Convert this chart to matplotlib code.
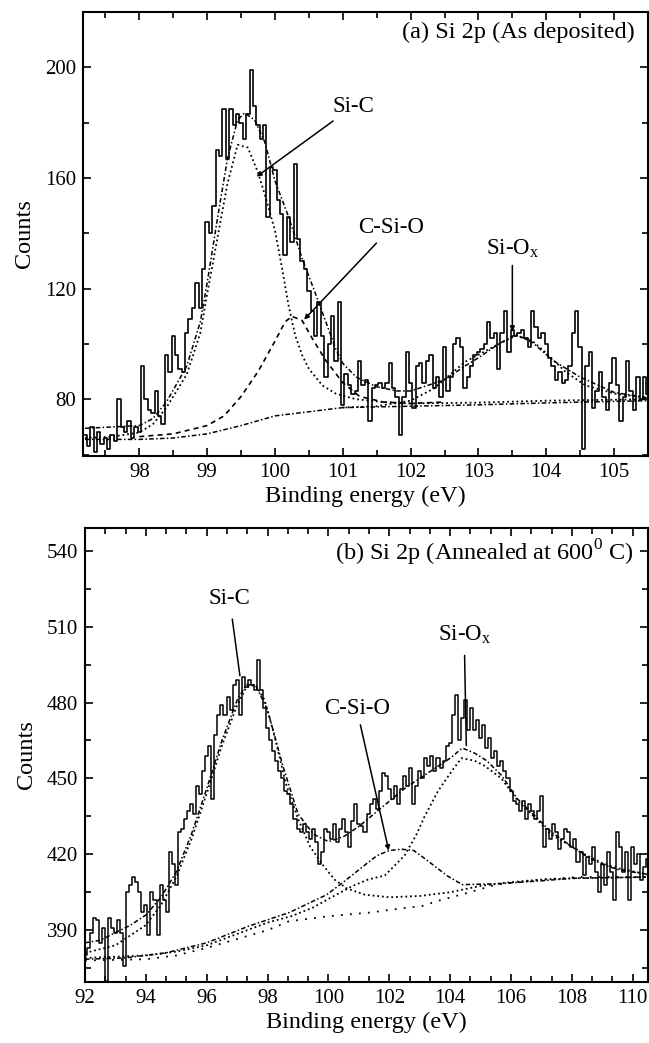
import numpy as np
import matplotlib
matplotlib.use("Agg")
import matplotlib.pyplot as plt
from matplotlib.ticker import MultipleLocator, AutoMinorLocator

plt.rcParams['font.family'] = ['Liberation Serif', 'DejaVu Serif']
plt.rcParams['mathtext.fontset'] = 'custom'
plt.rcParams['mathtext.rm'] = 'Liberation Serif'

# ---------------- (a) as deposited ----------------
a_e0, a_step = 97.2, 0.05
a_counts = [67, 63, 70, 61, 68, 64, 66, 62, 67, 65,
            80, 70, 68, 72, 66, 70, 68, 92, 80, 76,
            75, 83, 74, 71, 96, 90, 103, 96, 91, 90,
            104, 109, 113, 122, 113, 127, 144, 140, 150, 170,
            168, 185, 167, 185, 179, 183, 180, 174, 183, 199,
            186, 179, 174, 179, 146, 164, 163, 152, 147, 132,
            146, 137, 165, 138, 130, 127, 119, 112, 103, 115,
            103, 88, 100, 110, 94, 115, 78, 89, 85, 82,
            83, 94, 85, 87, 72, 84, 85, 86, 84, 86,
            93, 84, 81, 67, 81, 97, 86, 77, 92, 93,
            86, 94, 96, 84, 88, 81, 99, 83, 88, 100,
            102, 99, 84, 88, 92, 96, 97, 98, 100, 108,
            102, 104, 91, 104, 112, 97, 105, 103, 104, 105,
            102, 99, 112, 106, 102, 104, 100, 95, 92, 87,
            90, 86, 87, 92, 104, 112, 99, 62, 92, 97,
            77, 83, 90, 81, 76, 86, 95, 85, 72, 81,
            94, 83, 76, 88, 80, 88, 82]
a_energy = a_e0 + a_step * np.arange(len(a_counts))

a_env_x = [97.2, 97.6, 98.0, 98.2, 98.4, 98.7, 98.9, 99.0, 99.15, 99.3, 99.45, 99.55,
           99.7, 99.85, 100.0, 100.2, 100.4, 100.6, 100.75, 100.9, 101.0, 101.2, 101.5,
           101.8, 102.0, 102.5, 102.8, 103.0, 103.3, 103.55, 103.8, 104.1, 104.5, 105.0, 105.5]
a_env_y = [69.5, 70, 70.5, 73, 79, 92, 108, 122, 145, 167, 181, 183.5,
           181, 173, 159, 146, 131, 118, 108, 98, 93, 88, 84.5,
           83, 83, 87, 92, 95, 100, 103.5, 100.5, 94, 88, 82.5, 80.5]

a_sic_x = [97.2, 97.6, 98.0, 98.2, 98.4, 98.7, 98.9, 99.0, 99.15, 99.3, 99.45, 99.6,
           99.75, 99.85, 100.0, 100.1, 100.2, 100.3, 100.4, 100.5, 100.7, 100.9, 101.2,
           101.6, 102.0, 103.0, 104.0, 105.5]
a_sic_y = [66, 66.5, 68, 71, 77, 89, 104, 118, 138, 158, 172, 171,
           162, 154, 141, 128, 114, 103, 96, 91, 85, 82, 80,
           79, 78.5, 78.8, 79.5, 80]

a_csio_x = [98.0, 98.5, 99.0, 99.25, 99.5, 99.75, 100.0, 100.15, 100.25, 100.4,
            100.55, 100.75, 101.0, 101.25, 101.6, 102.0, 102.5]
a_csio_y = [66.5, 67.5, 70.5, 74, 81, 90, 101, 108, 110, 108.5,
            102, 94, 86, 81, 79, 78.5, 79]

a_siox_x = [101.0, 101.5, 102.0, 102.35, 102.8, 103.3, 103.55, 103.8, 104.03,
            104.28, 104.58, 105.02, 105.5]
a_siox_y = [77, 77.5, 79.5, 84, 93.5, 100, 103, 101, 96,
            90, 85, 82, 80.5]

a_bg_x = [97.2, 98.0, 98.5, 99.0, 99.5, 100.0, 100.5, 101.0, 102.0, 103.0, 104.0, 105.5]
a_bg_y = [65.5, 65.5, 66, 67.5, 70.5, 74, 75.5, 77, 77.5, 78, 78.7, 79.5]

# ---------------- (b) annealed ----------------
b_e0, b_step = 92.0, 0.1
b_counts = [380, 383, 389, 395, 394, 385, 391, 370, 395, 391,
            389, 394, 389, 376, 405, 408, 411, 409, 405, 397,
            400, 388, 405, 402, 388, 408, 402, 397, 421, 416,
            408, 429, 430, 434, 437, 440, 436, 447, 444, 453,
            459, 463, 442, 467, 475, 479, 475, 482, 477, 487,
            489, 475, 490, 486, 489, 487, 485, 497, 485, 478,
            470, 465, 461, 457, 453, 450, 445, 444, 440, 434,
            430, 429, 432, 429, 426, 430, 425, 416, 421, 430,
            429, 426, 432, 425, 430, 434, 429, 423, 433, 440,
            432, 431, 429, 436, 440, 442, 438, 445, 452, 451,
            446, 442, 447, 440, 446, 451, 447, 454, 440, 447,
            453, 450, 458, 455, 459, 453, 458, 454, 457, 463,
            464, 475, 483, 465, 474, 481, 469, 478, 469, 473,
            466, 471, 462, 466, 458, 461, 455, 457, 453, 450,
            445, 441, 440, 437, 441, 434, 440, 437, 434, 437,
            443, 423, 430, 426, 432, 429, 422, 426, 430, 429,
            423, 426, 417, 421, 412, 419, 416, 423, 413, 405,
            416, 408, 421, 413, 402, 429, 423, 413, 421, 402,
            423, 416, 420, 410, 415, 418]
b_energy = b_e0 + b_step * np.arange(len(b_counts))

b_env_x = [92.0, 92.5, 93.0, 93.5, 94.0, 94.5, 95.0, 95.5, 96.0, 96.5, 97.0, 97.3,
           97.6, 98.0, 98.5, 99.0, 99.5, 100.0, 100.5, 101.0, 101.5, 102.0, 102.5,
           103.0, 103.5, 104.0, 104.4, 104.8, 105.2, 105.7, 106.2, 106.8, 107.3,
           108.0, 108.5, 109.0, 109.5, 110.5]
b_env_y = [385, 386, 389, 392, 396, 403, 413, 428, 446, 465, 481, 487,
           487, 477, 455, 436, 428, 425, 427, 431, 436, 441, 446,
           450, 454, 458, 462, 460, 457, 451, 442, 435, 429,
           423, 419, 416, 414, 412]

b_sic_x = [92.0, 93.0, 94.0, 94.5, 95.0, 95.5, 96.0, 96.5, 97.0, 97.3, 97.6, 97.9,
           98.2, 98.6, 99.0, 99.4, 99.8, 100.2, 100.6, 101.2, 102.0, 103.0, 104.0,
           105.0, 106.0, 107.0, 108.0, 110.5]
b_sic_y = [381, 384, 392, 400, 411, 426, 444, 463, 479, 486, 487, 481,
           468, 448, 434, 423, 416, 410, 406.5, 404, 403, 403.5, 405,
           407.5, 409, 410, 410.5, 411]

b_csio_x = [92.0, 93.3, 94.65, 96.0, 97.36, 98.72, 99.94, 100.49, 101.17, 101.6,
            102.0, 102.4, 102.8, 103.2, 103.9, 104.4, 105.5, 107.0, 108.0, 110.5]
b_csio_y = [378.5, 379, 381, 385, 391.5, 397, 404, 409, 415.5, 419.5,
            421.5, 422, 421.5, 418, 411.5, 408, 408.3, 409.5, 410.5, 411]

b_siox_x = [92.0, 94.0, 95.0, 96.0, 97.0, 98.0, 98.8, 99.5, 100.1, 100.8, 101.3,
            101.85, 102.5, 102.9, 103.16, 103.6, 104.04, 104.37, 104.8, 105.13,
            105.68, 106.23, 106.83, 107.3, 108.0, 108.5, 109.0, 109.5, 110.5]
b_siox_y = [379, 380, 381.5, 384, 388.5, 393, 395.6, 399, 403, 407.5, 410,
            411.6, 419.5, 428, 435, 445, 452.7, 458, 457, 455,
            450, 441, 434, 428, 423, 419.5, 416.5, 414.5, 412]

b_bg_x = [92.0, 94.0, 95.0, 96.0, 97.0, 98.0, 98.7, 100.0, 101.4, 102.0, 103.1,
          103.6, 104.5, 105.5, 107.0, 108.2, 110.5]
b_bg_y = [378, 378.5, 380, 383, 386.5, 390, 393.5, 395.5, 397, 398, 399.6,
          401.6, 404.5, 408, 410, 411, 411]

fig = plt.figure(figsize=(6.49, 10.43), dpi=100)
ax1 = fig.add_axes([83/649, 1-456/1043, (648-83)/649, (456-12)/1043])
ax2 = fig.add_axes([85/649, 1-982/1043, (648-85)/649, (982-528)/1043])

dot = dict(color='black', lw=1.3, linestyle=(0, (1, 1.6)))
dash = dict(color='black', lw=1.2, linestyle=(0, (3, 2.5)))
dashdot = dict(color='black', lw=1.1, linestyle=(0, (3, 1.5, 1, 1.5)))
sparse = dict(color='black', lw=1.3, linestyle=(0, (1, 4)))

# panel (a)
ax1.plot(a_energy, a_counts, color='black', lw=1.2, drawstyle='steps-mid')
ax1.plot(a_bg_x, a_bg_y, **dashdot)
ax1.plot(a_sic_x, a_sic_y, **dot)
ax1.plot(a_csio_x, a_csio_y, **dash)
ax1.plot(a_siox_x, a_siox_y, **dot)
ax1.plot(a_env_x, a_env_y, **dashdot)

ax1.set_xlim(97.17, 105.5)
ax1.set_ylim(59.5, 220)
ax1.xaxis.set_major_locator(MultipleLocator(1))
ax1.xaxis.set_minor_locator(AutoMinorLocator(2))
ax1.yaxis.set_major_locator(MultipleLocator(40))
ax1.yaxis.set_minor_locator(AutoMinorLocator(2))

ax1.text(0.977, 0.955, '(a) Si 2p (As deposited)', transform=ax1.transAxes,
         ha='right', va='center', fontsize=17.5)
arr = dict(arrowstyle='-|>', color='black', lw=1.1, mutation_scale=7, shrinkA=2, shrinkB=0)
ax1.annotate('Si-C', xy=(99.73, 160.5), xytext=(101.16, 186), fontsize=16.5,
             ha='center', va='center', arrowprops=arr)
ax1.annotate('C-Si-O', xy=(100.43, 108.8), xytext=(101.71, 142), fontsize=16.5,
             ha='center', va='center', arrowprops=arr)
ax1.annotate('Si-O$_\\mathrm{x}$', xy=(103.5, 104.5), xytext=(103.5, 134.5), fontsize=16.5,
             ha='center', va='center', arrowprops=arr)

# panel (b)
ax2.plot(b_energy, b_counts, color='black', lw=1.1, drawstyle='steps-mid')
ax2.plot(b_bg_x, b_bg_y, **sparse)
ax2.plot(b_sic_x, b_sic_y, **dot)
ax2.plot(b_csio_x, b_csio_y, **dashdot)
ax2.plot(b_siox_x, b_siox_y, **dot)
ax2.plot(b_env_x, b_env_y, **dashdot)

ax2.set_xlim(92, 110.5)
ax2.set_ylim(369.5, 549)
ax2.xaxis.set_major_locator(MultipleLocator(2))
ax2.xaxis.set_minor_locator(AutoMinorLocator(3))
ax2.yaxis.set_major_locator(MultipleLocator(30))
ax2.yaxis.set_minor_locator(AutoMinorLocator(2))

ax2.text(0.975, 0.945, '(b) Si 2p (Annealed at 600$^\\mathrm{0}$ C)', transform=ax2.transAxes,
         ha='right', va='center', fontsize=17.5)
ax2.annotate('Si-C', xy=(97.09, 490.6), xytext=(96.75, 521), fontsize=16.5,
             ha='center', va='center',
             arrowprops=dict(arrowstyle='-', color='black', lw=1.1, shrinkA=5, shrinkB=0))
ax2.annotate('C-Si-O', xy=(101.98, 421.5), xytext=(100.93, 477.5), fontsize=16.5,
             ha='center', va='center', arrowprops=arr)
ax2.annotate('Si-O$_\\mathrm{x}$', xy=(104.53, 463), xytext=(104.46, 507), fontsize=16.5,
             ha='center', va='center',
             arrowprops=dict(arrowstyle='-', color='black', lw=1.1, shrinkA=5, shrinkB=0))

for ax in (ax1, ax2):
    ax.set_xlabel('Binding energy (eV)', fontsize=17.5, labelpad=3)
    ax.set_ylabel('Counts', fontsize=17.5, labelpad=7)
    ax.tick_params(which='both', direction='in', top=True, right=True,
                   labelsize=15, width=1.2)
    ax.tick_params(which='major', length=6, pad=5)
    ax.tick_params(which='minor', length=4)
    for s in ax.spines.values():
        s.set_linewidth(1.5)

fig.savefig('out.png', dpi=100)
